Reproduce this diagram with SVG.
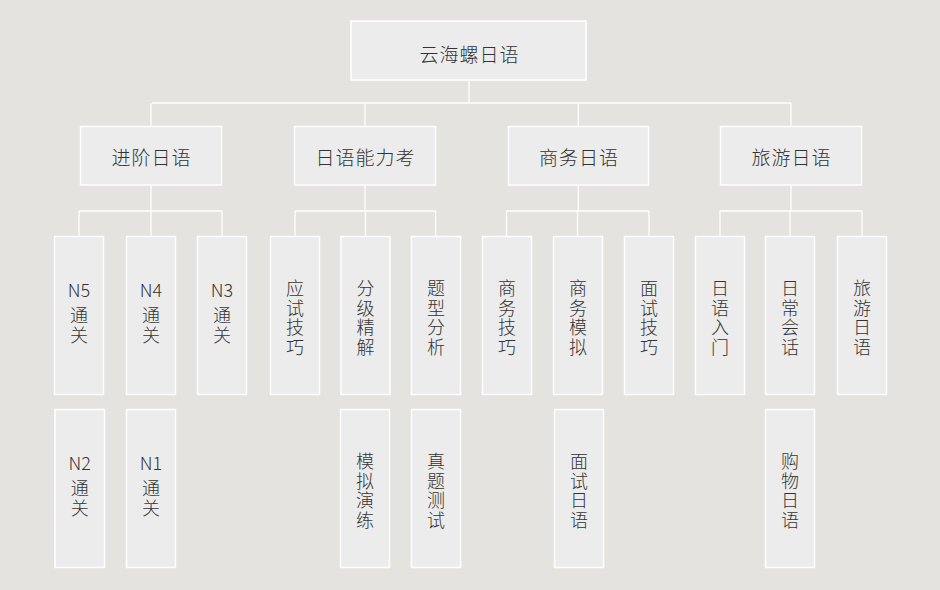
<svg xmlns="http://www.w3.org/2000/svg" width="940" height="590" viewBox="0 0 940 590">
<style>
.bg{fill:#e4e3df}
.box{fill:#ececec;stroke:#ffffff;stroke-width:1.5}
.conn{fill:none;stroke:#ffffff;stroke-width:1.3}
.t{font-family:"Noto Sans CJK SC","Noto Sans",sans-serif;font-size:19px;font-weight:300;fill:#333333;text-anchor:middle;letter-spacing:1px}
.v{font-family:"Noto Sans CJK SC","Noto Sans",sans-serif;font-size:18px;font-weight:300;fill:#333333;text-anchor:middle}
.lat{font-size:18px}
</style>
<rect class="bg" x="0" y="0" width="940" height="590"/>
<g id="connectors">
<path class="conn" d="M469,80.5 V103 M152,103 H791 M151,103 V126 M365,103 V126 M578.3,103 V126 M791,103 V126"/>
<path class="conn" d="M151,185.5 V211 M79,211 H222 M79,211 V236.5 M151,211 V236.5 M222,211 V236.5"/>
<path class="conn" d="M365,185.5 V211 M295,211 H435.7 M295,211 V236.5 M365.5,211 V236.5 M435.7,211 V236.5"/>
<path class="conn" d="M578.3,185.5 V211 M506.5,211 H649 M506.5,211 V236.5 M577.5,211 V236.5 M649,211 V236.5"/>
<path class="conn" d="M791,185.5 V211 M720,211 H862 M720,211 V236.5 M790,211 V236.5 M862,211 V236.5"/>
</g>
<g id="root"><rect class="box" x="351" y="21" width="235" height="59"/><text class="t" x="469.5" y="62">云海螺日语</text></g>
<g id="jinjie"><rect class="box" x="80.5" y="126.5" width="141" height="58.5"/><text class="t" x="151.5" y="165">进阶日语</text></g>
<g id="nengli"><rect class="box" x="294.5" y="126.5" width="141" height="58.5"/><text class="t" x="365.5" y="165">日语能力考</text></g>
<g id="shangwu"><rect class="box" x="508.5" y="126.5" width="140" height="58.5"/><text class="t" x="579" y="165">商务日语</text></g>
<g id="lvyou"><rect class="box" x="720.5" y="126.5" width="141" height="58.5"/><text class="t" x="791.5" y="165">旅游日语</text></g>

<g id="n5"><rect class="box" x="54.5" y="236.5" width="49" height="158"/><text class="v"><tspan class="lat" x="79" y="297">N5</tspan><tspan x="79" y="322">通</tspan><tspan x="79" y="342">关</tspan></text></g>
<g id="n4"><rect class="box" x="126.5" y="236.5" width="49" height="158"/><text class="v"><tspan class="lat" x="151" y="297">N4</tspan><tspan x="151" y="322">通</tspan><tspan x="151" y="342">关</tspan></text></g>
<g id="n3"><rect class="box" x="197.5" y="236.5" width="49" height="158"/><text class="v"><tspan class="lat" x="222" y="297">N3</tspan><tspan x="222" y="322">通</tspan><tspan x="222" y="342">关</tspan></text></g>
<g id="yingshi"><rect class="box" x="270.5" y="236.5" width="49" height="158"/><text class="v"><tspan x="295" y="295">应</tspan><tspan x="295" y="314.5">试</tspan><tspan x="295" y="334">技</tspan><tspan x="295" y="353.5">巧</tspan></text></g>
<g id="fenji"><rect class="box" x="341" y="236.5" width="49" height="158"/><text class="v"><tspan x="365.5" y="295">分</tspan><tspan x="365.5" y="314.5">级</tspan><tspan x="365.5" y="334">精</tspan><tspan x="365.5" y="353.5">解</tspan></text></g>
<g id="tixing"><rect class="box" x="411.5" y="236.5" width="49" height="158"/><text class="v"><tspan x="436" y="295">题</tspan><tspan x="436" y="314.5">型</tspan><tspan x="436" y="334">分</tspan><tspan x="436" y="353.5">析</tspan></text></g>
<g id="swjiqiao"><rect class="box" x="482.5" y="236.5" width="49" height="158"/><text class="v"><tspan x="507" y="295">商</tspan><tspan x="507" y="314.5">务</tspan><tspan x="507" y="334">技</tspan><tspan x="507" y="353.5">巧</tspan></text></g>
<g id="swmoni"><rect class="box" x="553.5" y="236.5" width="49" height="158"/><text class="v"><tspan x="578" y="295">商</tspan><tspan x="578" y="314.5">务</tspan><tspan x="578" y="334">模</tspan><tspan x="578" y="353.5">拟</tspan></text></g>
<g id="msjiqiao"><rect class="box" x="624.5" y="236.5" width="49" height="158"/><text class="v"><tspan x="649" y="295">面</tspan><tspan x="649" y="314.5">试</tspan><tspan x="649" y="334">技</tspan><tspan x="649" y="353.5">巧</tspan></text></g>
<g id="rumen"><rect class="box" x="695.5" y="236.5" width="49" height="158"/><text class="v"><tspan x="720" y="295">日</tspan><tspan x="720" y="314.5">语</tspan><tspan x="720" y="334">入</tspan><tspan x="720" y="353.5">门</tspan></text></g>
<g id="richang"><rect class="box" x="765.5" y="236.5" width="49" height="158"/><text class="v"><tspan x="790" y="295">日</tspan><tspan x="790" y="314.5">常</tspan><tspan x="790" y="334">会</tspan><tspan x="790" y="353.5">话</tspan></text></g>
<g id="lyriyu"><rect class="box" x="837.5" y="236.5" width="49" height="158"/><text class="v"><tspan x="862" y="295">旅</tspan><tspan x="862" y="314.5">游</tspan><tspan x="862" y="334">日</tspan><tspan x="862" y="353.5">语</tspan></text></g>

<g id="n2"><rect class="box" x="55" y="409.5" width="49.5" height="158"/><text class="v"><tspan class="lat" x="79.7" y="470">N2</tspan><tspan x="79.7" y="495">通</tspan><tspan x="79.7" y="515">关</tspan></text></g>
<g id="n1"><rect class="box" x="126.5" y="409.5" width="49" height="158"/><text class="v"><tspan class="lat" x="151" y="470">N1</tspan><tspan x="151" y="495">通</tspan><tspan x="151" y="515">关</tspan></text></g>
<g id="moni"><rect class="box" x="340.5" y="409.5" width="49" height="158"/><text class="v"><tspan x="365" y="468">模</tspan><tspan x="365" y="487.5">拟</tspan><tspan x="365" y="507">演</tspan><tspan x="365" y="526.5">练</tspan></text></g>
<g id="zhenti"><rect class="box" x="411.5" y="409.5" width="49" height="158"/><text class="v"><tspan x="436" y="468">真</tspan><tspan x="436" y="487.5">题</tspan><tspan x="436" y="507">测</tspan><tspan x="436" y="526.5">试</tspan></text></g>
<g id="msriyu"><rect class="box" x="554.5" y="409.5" width="49" height="158"/><text class="v"><tspan x="579" y="468">面</tspan><tspan x="579" y="487.5">试</tspan><tspan x="579" y="507">日</tspan><tspan x="579" y="526.5">语</tspan></text></g>
<g id="gouwu"><rect class="box" x="765.5" y="409.5" width="49" height="158"/><text class="v"><tspan x="790" y="468">购</tspan><tspan x="790" y="487.5">物</tspan><tspan x="790" y="507">日</tspan><tspan x="790" y="526.5">语</tspan></text></g>
</svg>
